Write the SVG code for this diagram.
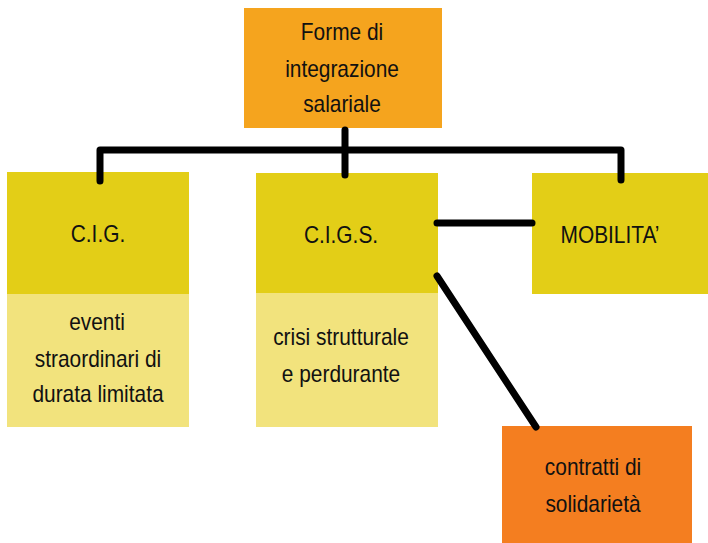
<svg xmlns="http://www.w3.org/2000/svg" width="708" height="543" viewBox="0 0 708 543">
<style>
text{font-family:"Liberation Sans",Arial,sans-serif;font-size:24px;fill:#111;text-anchor:middle}
.c{stroke:#000;stroke-width:7;fill:none;stroke-linecap:round;stroke-linejoin:round}
.dy{fill:#E3CE17}.ly{fill:#F2E37D}
</style>
<rect width="708" height="543" fill="#fff"/>
<g id="forme">
<rect x="244" y="8" width="198" height="120" fill="#F5A41E"/>
<text transform="translate(342,40) scale(0.87,1)">Forme di</text>
<text transform="translate(342,77) scale(0.87,1)">integrazione</text>
<text transform="translate(342,112) scale(0.87,1)">salariale</text>
</g>
<g id="cig">
<rect class="ly" x="7" y="294" width="182" height="133"/>
<rect class="dy" x="7" y="172" width="182" height="122"/>
<text transform="translate(98,242) scale(0.87,1)">C.I.G.</text>
<text transform="translate(97,330) scale(0.87,1)">eventi</text>
<text transform="translate(98,367) scale(0.87,1)">straordinari di</text>
<text transform="translate(98,402) scale(0.87,1)">durata limitata</text>
</g>
<g id="cigs">
<rect class="ly" x="256" y="293" width="182" height="134"/>
<rect class="dy" x="256" y="173" width="182" height="120"/>
<text transform="translate(341,243) scale(0.87,1)">C.I.G.S.</text>
<text transform="translate(341,345) scale(0.87,1)">crisi strutturale</text>
<text transform="translate(341,382) scale(0.87,1)">e perdurante</text>
</g>
<g id="mobilita">
<rect class="dy" x="532" y="173" width="176" height="121"/>
<text transform="translate(610,243) scale(0.87,1)">MOBILITA’</text>
</g>
<g id="contratti">
<rect x="502" y="426" width="190" height="117" fill="#F47E20"/>
<text transform="translate(593,475) scale(0.87,1)">contratti di</text>
<text transform="translate(593,512) scale(0.87,1)">solidarietà</text>
</g>
<g id="connectors">
<path class="c" d="M100,181 V150 H621 V180"/>
<path class="c" d="M345,130 V175"/>
<path class="c" d="M437,223 H532"/>
<path class="c" d="M437,276 L536,427"/>
</g>
</svg>
